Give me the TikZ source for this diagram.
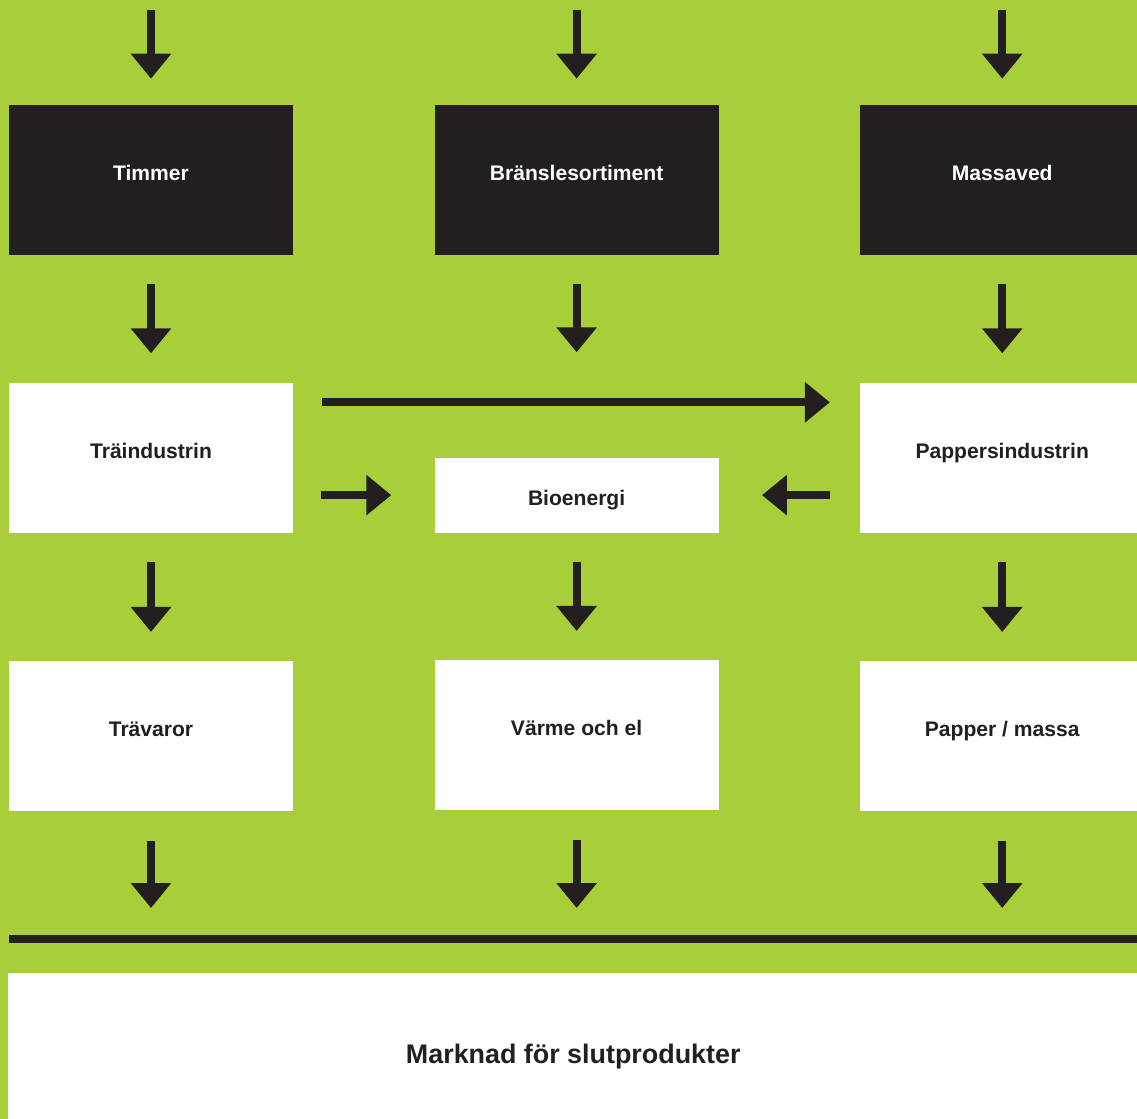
\documentclass[tikz,border=0pt]{standalone}
\usepackage{fontspec}
\setmainfont{Liberation Sans}
\usetikzlibrary{positioning, arrows.meta}

\definecolor{leafgreen}{HTML}{A8CE3A}
\definecolor{ink}{HTML}{231F20}

\tikzset{
	box/.style={minimum width=5.68cm, minimum height=3cm, inner sep=0pt, text height=0.3cm, text depth=0.28cm, font=\bfseries\fontsize{12}{14}\selectfont},
	darkbox/.style={box, fill=ink, text=white},
	lightbox/.style={box, fill=white, text=ink},
	flow/.style={draw=ink, line width=0.16cm, -{Triangle[width=0.78cm, length=0.5cm]}, shorten <=0.58cm, shorten >=0.58cm},
}

\begin{document}
\begin{tikzpicture}[x=0.02cm, y=-0.02cm]
		\fill[leafgreen] (0,0) rectangle (1137,1119);
		\useasboundingbox (0,0) rectangle (1137,1119);
		
		% raw material
		\node[darkbox] (timmer) at (151,180) {Timmer};
		\node[darkbox, right=2.82cm of timmer] (brans) {Bränslesortiment};
		\node[darkbox, right=2.82cm of brans] (massa) {Massaved};
		
		% industry
		\node[lightbox, below=2.54cm of timmer] (traind) {Träindustrin};
		\node[lightbox, below=2.54cm of massa] (pappind) {Pappersindustrin};
		\node[lightbox, minimum height=1.5cm, text height=0.42cm, text depth=0pt, anchor=south] (bio) at (traind.south -| brans) {Bioenergi};
		
		% products
		\node[lightbox, below=2.56cm of traind] (trav) {Trävaror};
		\node[lightbox, below=2.54cm of bio] (varme) {Värme och el};
		\node[lightbox, below=2.56cm of pappind] (papper) {Papper / massa};
		
		\node[lightbox, minimum width=22.6cm, minimum height=2.92cm, text height=0.67cm, text depth=0pt, anchor=north west, font=\bfseries\fontsize{15.3}{18}\selectfont] (market) at (8,973) {Marknad för slutprodukter};
		
		\coordinate (barl) at (9,939);
		\coordinate (barr) at (1137,939);
		\draw[ink, line width=0.16cm] (barl) -- (barr);
		
		\foreach \n in {timmer, brans, massa} {
			\coordinate (in-\n) at (\n |- 0,10);
			\draw[flow, shorten <=0pt, shorten >=0.52cm] (in-\n) -- (\n);
		}
		
		\draw[flow] (timmer) -- (traind);
		\draw[flow, shorten >=2.1cm] (brans) -- (bio);
		\draw[flow] (massa) -- (pappind);
		
		\draw[flow, shorten >=0.6cm] ([yshift=-0.4cm]traind.north east) -- ([yshift=-0.4cm]pappind.north west);
		\draw[flow, shorten <=0.56cm, shorten >=0.86cm] (traind.east |- bio.west) -- (bio.west);
		\draw[flow, shorten <=0.6cm, shorten >=0.86cm] (pappind.west |- bio.east) -- (bio.east);
		
		\draw[flow] (traind) -- (trav);
		\draw[flow] (bio) -- (varme);
		\draw[flow] (pappind) -- (papper);
		
		\draw[flow, shorten >=0.62cm] (trav) -- (trav |- barl);
		\draw[flow, shorten >=0.62cm] (varme) -- (varme |- barl);
		\draw[flow, shorten >=0.62cm] (papper) -- (papper |- barl);
	\end{tikzpicture}
\end{document}
